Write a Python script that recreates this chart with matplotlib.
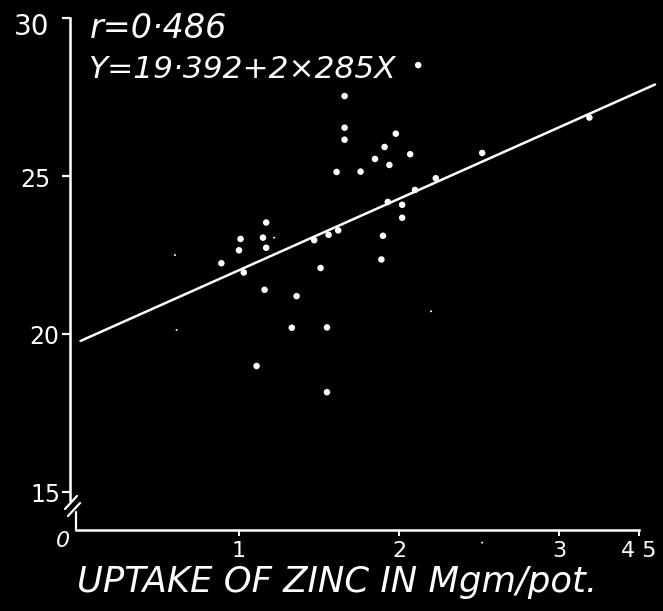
import matplotlib
matplotlib.use("Agg")
import matplotlib.pyplot as plt
import matplotlib.transforms as mtransforms
import numpy as np

# ---- data ----
zinc_uptake = [1.66, 1.66, 1.66, 1.98, 1.91, 2.07, 1.85, 1.94, 1.61, 1.76,
               2.23, 2.10, 1.93, 2.02, 2.02, 1.90, 1.89, 1.56, 1.62, 1.47,
               1.17, 1.01, 1.15, 1.00, 1.17, 0.89, 1.03, 1.51, 1.16, 1.36,
               1.33, 1.55, 1.11, 1.55, 2.52, 3.19, 2.12]
yield_vals = [27.53, 26.53, 26.15, 26.34, 25.92, 25.69, 25.54, 25.35, 25.13, 25.14,
              24.93, 24.56, 24.18, 24.09, 23.68, 23.11, 22.36, 23.14, 23.28, 22.97,
              23.53, 23.01, 23.05, 22.65, 22.73, 22.24, 21.95, 22.09, 21.40, 21.20,
              20.20, 20.21, 18.99, 18.16, 25.73, 26.85, 28.51]
speck_x = [0.60, 0.61, 1.22, 2.20, 2.52]
speck_y = [22.50, 20.13, 23.05, 20.72, 13.40]

fit_intercept = 19.76
fit_slope = 2.26
fit_x = [0.01, 3.60]

x_ticks = [1, 2, 3, 3.5]
x_tick_labels = ["1", "2", "3", "4 5"]
y_ticks = [15, 20, 25, 30]
y_tick_labels = ["15", "20", "25", "30"]

r_text = "r=0·486"
eq_text = "Y=19·392+2×285X"
x_label = "UPTAKE OF ZINC IN Mgm/pot."

# ---- figure ----
W, H = 663, 611
fig = plt.figure(figsize=(W / 100, H / 100), dpi=100, facecolor="black")
ax = fig.add_axes([70 / W, 81 / H, 593 / W, 530 / H])
ax.set_facecolor("black")
ax.set_xlim(-0.056, 3.65)
ax.set_ylim(13.8, 30.57)

for s in ["top", "right"]:
    ax.spines[s].set_visible(False)
ax.spines["left"].set_color("white")
ax.spines["left"].set_linewidth(1.8)
ax.spines["left"].set_bounds(14.75, 30)
ax.spines["bottom"].set_color("white")
ax.spines["bottom"].set_linewidth(1.8)
ax.spines["bottom"].set_bounds(-0.02, 3.5)

ax.set_xticks(x_ticks)
ax.set_xticklabels(x_tick_labels)
ax.set_yticks(y_ticks)
ax.set_yticklabels(y_tick_labels)
ax.tick_params(axis="y", colors="white", direction="out", length=6, width=1.6,
               labelsize=17, pad=8)
ax.tick_params(axis="x", colors="white", direction="out", length=4, width=1.4,
               labelsize=16, pad=4)

# hand-drawn style: labels sit at slightly different distances from the axis
y_label_shift = {"30": (-1, -6), "25": (0, -1), "20": (9, 0), "15": (10, 0)}
for lab in ax.get_yticklabels():
    dx, dy = y_label_shift.get(lab.get_text(), (0, 0))
    if lab.get_text() == "30":
        lab.set_fontsize(20)
    lab.set_transform(lab.get_transform() +
                      mtransforms.ScaledTranslation(dx / 100, dy / 100,
                                                    fig.dpi_scale_trans))

# axis break marks and short lower segment
kw = dict(transform=ax.transAxes, color="white", lw=1.6, clip_on=False,
          solid_capstyle="round")
ax.plot([-0.0084, 0.0118], [0.0396, 0.0642], **kw)
ax.plot([-0.0034, 0.0169], [0.0264, 0.0509], **kw)
ax.plot([0.0101, 0.0101], [0.0, 0.034], **kw)
ax.text(-0.0118, -0.021, "0", transform=ax.transAxes, color="white",
        fontsize=16, ha="center", va="center", style="italic")

# regression line
fx = np.array(fit_x)
ax.plot(fx, fit_intercept + fit_slope * fx, color="white", lw=1.8,
        solid_capstyle="round")

# points
ax.scatter(zinc_uptake, yield_vals, s=22, color="white", edgecolors="none",
           zorder=3)
ax.scatter(speck_x, speck_y, s=2, color="white", edgecolors="none",
           zorder=3, clip_on=False)

# texts
ax.text(0.0337, 0.928, r_text, transform=ax.transAxes, color="white",
        fontsize=24, style="italic", ha="left", va="baseline")
ax.text(0.0304, 0.853, eq_text, transform=ax.transAxes, color="white",
        fontsize=22.5, style="italic", ha="left", va="baseline")
ax.text(0.45, -0.117, x_label, transform=ax.transAxes, color="white",
        fontsize=25.5, style="italic", ha="center", va="baseline")

fig.savefig("out.png", dpi=100, facecolor="black")
